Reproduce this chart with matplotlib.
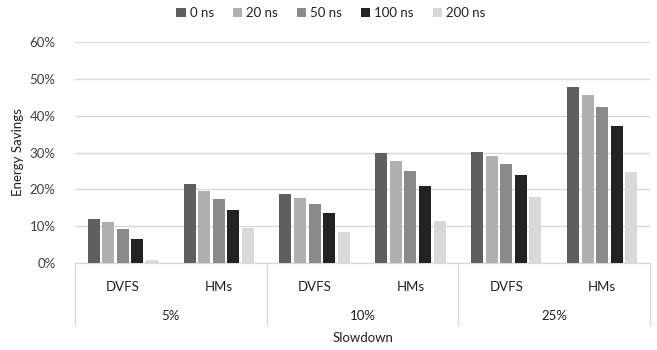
import numpy as np
import matplotlib.pyplot as plt
import matplotlib.transforms as mtransforms

plt.rcParams['font.family'] = ['Lato', 'DejaVu Sans']

# data
slowdowns = ["5%", "10%", "25%"]
methods = ["DVFS", "HMs"]
latencies = ["0 ns", "20 ns", "50 ns", "100 ns", "200 ns"]
colors = ["#5f5f5f", "#b0b0b0", "#8a8a8a", "#222222", "#d9d9d9"]

# rows: 5% DVFS, 5% HMs, 10% DVFS, 10% HMs, 25% DVFS, 25% HMs
savings_0 = [12.0, 21.4, 18.7, 29.8, 30.2, 47.7]
savings_20 = [11.0, 19.6, 17.6, 27.7, 29.0, 45.6]
savings_50 = [9.3, 17.3, 16.0, 24.9, 27.0, 42.3]
savings_100 = [6.5, 14.3, 13.5, 20.8, 24.0, 37.1]
savings_200 = [0.8, 9.6, 8.3, 11.3, 17.8, 24.7]
series = [savings_0, savings_20, savings_50, savings_100, savings_200]

FS = 9.5
W, H = 657, 350
fig = plt.figure(figsize=(W / 100, H / 100), dpi=100)
ax = fig.add_axes([75 / W, (H - 263) / H, 575 / W, (263 - 42) / H])

x = np.arange(len(methods) * len(slowdowns))
step = 0.152
width = 0.125
for i, (vals, c) in enumerate(zip(series, colors)):
    ax.bar(x + (i - 2) * step, np.array(vals) / 100, width, color=c,
           label=latencies[i], zorder=3)

ax.set_xlim(-0.5, 5.5)
ax.set_ylim(0, 0.6)
ax.set_yticks(np.arange(0, 0.61, 0.1))
ax.set_yticklabels([f"{int(round(v * 100))}%" for v in np.arange(0, 0.61, 0.1)])
ax.grid(axis='y', color='#d9d9d9', linewidth=1, zorder=0)
for s in ax.spines.values():
    s.set_visible(False)
ax.tick_params(axis='y', length=0, labelsize=FS, colors='#404040', pad=14)
ax.set_xticks(x)
ax.set_xticklabels(methods * len(slowdowns))
ax.tick_params(axis='x', length=0, labelsize=FS, colors='#202020', pad=13)

# category boxes below the axis
trans = mtransforms.blended_transform_factory(ax.transData, ax.transAxes)
box_bottom = -(325 - 263) / 221
ax.plot([-0.5, 5.5], [0, 0], transform=trans, color='#d9d9d9', lw=1, clip_on=False, zorder=2)
for b in [-0.5, 1.5, 3.5, 5.5]:
    ax.plot([b, b], [0, box_bottom], transform=trans, color='#d9d9d9', lw=1, clip_on=False)
for j, s in enumerate(slowdowns):
    ax.text(2 * j + 0.5, -(316 - 263) / 221, s, transform=trans, ha='center', va='center',
            fontsize=FS, color='#202020')
ax.text(2.5, -(338 - 263) / 221, "Slowdown", transform=trans, ha='center', va='center',
        fontsize=FS, color='#202020')

ax.set_ylabel("Energy Savings", fontsize=FS, color='#202020', labelpad=4)

leg = ax.legend(loc='center', ncol=5, frameon=False, fontsize=FS,
                handlelength=0.7, handleheight=0.7, handletextpad=0.3,
                columnspacing=1.45, borderaxespad=0,
                bbox_to_anchor=((331 - 75) / 575, 1 + (42 - 13) / 221))
for t in leg.get_texts():
    t.set_color('#202020')

fig.savefig("out.png", dpi=100)
